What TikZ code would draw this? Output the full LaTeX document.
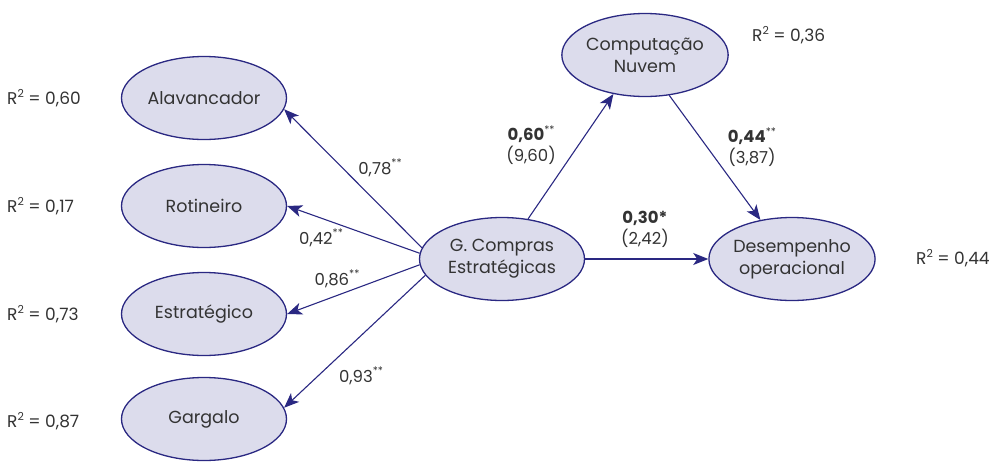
\documentclass[tikz,border=0pt]{standalone}
\usepackage{fontspec}
\setmainfont{Poppins}
\usetikzlibrary{shapes.geometric,arrows.meta}
\definecolor{edgec}{HTML}{2A2882}
\definecolor{fillc}{HTML}{DCDCEC}
\definecolor{txt}{HTML}{333333}
\newcommand{\sq}{\raisebox{0.4em}{\fontsize{11}{11}\selectfont 2}}
\newcommand{\st}{\raisebox{0.45em}{\fontsize{10.5}{10}\selectfont **}}
\begin{document}
\begin{tikzpicture}[x=1pt,y=-1pt,
  lat/.style={ellipse, draw=edgec, fill=fillc, line width=1.3pt, minimum width=165pt, minimum height=83pt, inner sep=0pt, align=center, text=txt, font=\fontsize{17.5}{22}\selectfont},
  pth/.style={draw=edgec, line width=1.1pt, -{Stealth[length=15pt,width=12pt,inset=4pt]}},
  lbl/.style={text=txt, font=\fontsize{16.5}{21}\selectfont, inner sep=0pt, align=center},
  rsq/.style={text=txt, font=\fontsize{17}{20}\selectfont, inner sep=0pt, anchor=west},
]
\useasboundingbox (0,0) rectangle (994,461);
\node[lat] (ala) at (204,98) {Alavancador};
\node[lat] (rot) at (204,206) {Rotineiro};
\node[lat] (est) at (204,314) {Estratégico};
\node[lat] (gar) at (204,419) {Gargalo};
\node[lat] (gc) at (502,259) {G. Compras\\Estratégicas};
\node[lat] (cn) at (645,55) {Computação\\Nuvem};
\node[lat] (de) at (792,259) {Desempenho\\operacional};

\node[rsq] (r1) at (7,98) {R\sq{} = 0,60};
\node[rsq] (r2) at (7,206) {R\sq{} = 0,17};
\node[rsq] (r3) at (7,314) {R\sq{} = 0,73};
\node[rsq] (r4) at (7,421) {R\sq{} = 0,87};
\node[rsq] (r5) at (752,35) {R\sq{} = 0,36};
\node[rsq] (r6) at (916,258) {R\sq{} = 0,44};

\draw[pth] (gc.172) -- (ala.-8);
\draw[pth] (gc.176) -- (rot.east);
\draw[pth] (gc.184) -- (est.east);
\draw[pth] (gc.192) -- (gar.8);
\draw[pth] (gc.57) -- (cn.231);
\draw[pth] (cn.-59) -- (de.129);
\draw[pth] (gc.east) -- (de.west);

\node[lbl] (l1) at (380,168) {0,78\st};
\node[lbl] (l2) at (321,238) {0,42\st};
\node[lbl] (l3) at (337,279) {0,86\st};
\node[lbl] (l4) at (361,376) {0,93\st};
\node[lbl] (l5) at (531,145) {\textbf{0,60}\st\\(9,60)};
\node[lbl] (l6) at (752,147) {\textbf{0,44}\st\\(3,87)};
\node[lbl] (l7) at (645,229) {\textbf{0,30*}\\(2,42)};
\end{tikzpicture}
\end{document}
